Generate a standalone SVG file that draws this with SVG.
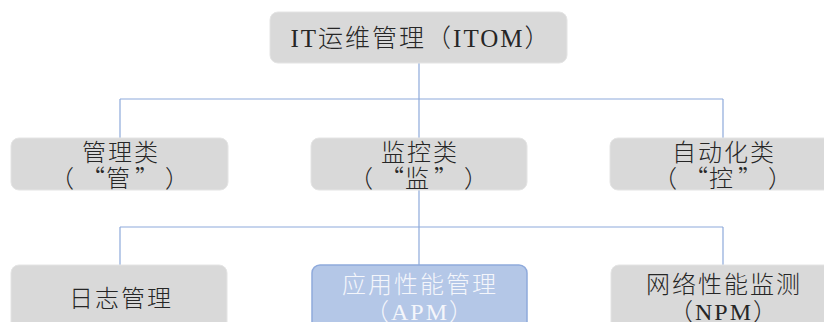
<svg xmlns="http://www.w3.org/2000/svg" width="824" height="322" viewBox="0 0 824 322">
<style>
.box{fill:#d9d9d9;stroke:#e4e4e4;stroke-width:1}
.hl{fill:#b4c7e7;stroke:#8faadc;stroke-width:1.5}
.t{font-family:"Liberation Serif","Noto Sans CJK SC",serif;font-size:24px;font-weight:300;fill:#262626;text-anchor:middle;letter-spacing:2px}
.big{font-size:25px}
.c{font-family:"Noto Sans CJK SC","Liberation Serif",serif;letter-spacing:0}
.w{fill:#f4f6fb}
.ln{fill:none;stroke:#8eaadb;stroke-width:1.2}
</style>
<g id="connectors">
<path class="ln" d="M419 63V99M120 99H723M120 99V138M419 99V138M723 99V138"/>
<path class="ln" d="M419 190V227M120 227H723M120 227V265M419 227V265M723 227V265"/>
</g>
<g id="itom">
<rect class="box" x="270" y="12" width="297" height="51" rx="8"/>
<text class="t big" x="421" y="47">IT运维管理（ITOM）</text>
</g>
<g id="manage">
<rect class="box" x="11" y="138" width="217" height="52" rx="8"/>
<text class="t" x="121" y="161">管理类</text>
<text class="t c" x="62 93 118 147 177" y="187">（“管”）</text>
</g>
<g id="monitor">
<rect class="box" x="311" y="138" width="216" height="52" rx="8"/>
<text class="t" x="420" y="161">监控类</text>
<text class="t c" x="361 392 417 446 476" y="187">（“监”）</text>
</g>
<g id="auto">
<rect class="box" x="610" y="138" width="226" height="52" rx="8"/>
<text class="t" x="724" y="161">自动化类</text>
<text class="t c" x="665 696 721 750 780" y="187">（“控”）</text>
</g>
<g id="log">
<rect class="box" x="11" y="265" width="216" height="70" rx="8"/>
<text class="t" x="121" y="307">日志管理</text>
</g>
<g id="apm">
<rect class="hl" x="312" y="265" width="215" height="70" rx="8"/>
<text class="t w" x="420" y="293">应用性能管理</text>
<text class="t w" x="420" y="320">（APM）</text>
</g>
<g id="npm">
<rect class="box" x="611" y="265" width="226" height="70" rx="8"/>
<text class="t" x="724" y="293">网络性能监测</text>
<text class="t" x="724" y="320">（NPM）</text>
</g>
</svg>
